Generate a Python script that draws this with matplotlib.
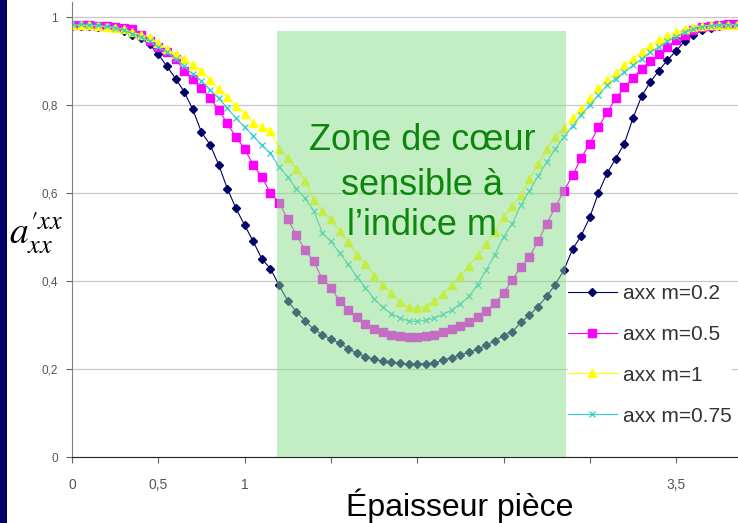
import matplotlib.pyplot as plt
from matplotlib.patches import Rectangle

# epaisseur (x) and the four axx curves
epaisseur = [0.00, 0.05, 0.10, 0.15, 0.20, 0.25, 0.30, 0.35, 0.40, 0.45,
             0.50, 0.55, 0.60, 0.65, 0.70, 0.75, 0.80, 0.85, 0.90, 0.95,
             1.00, 1.05, 1.10, 1.15, 1.20, 1.25, 1.30, 1.35, 1.40, 1.45,
             1.50, 1.55, 1.60, 1.65, 1.70, 1.75, 1.80, 1.85, 1.90, 1.95,
             2.00, 2.05, 2.10, 2.15, 2.20, 2.25, 2.30, 2.35, 2.40, 2.45,
             2.50, 2.55, 2.60, 2.65, 2.70, 2.75, 2.80, 2.85, 2.90, 2.95,
             3.00, 3.05, 3.10, 3.15, 3.20, 3.25, 3.30, 3.35, 3.40, 3.45,
             3.50, 3.55, 3.60, 3.65, 3.70, 3.75, 3.80, 3.85, 3.90, 3.95,
             4.00]

axx_m02 = [0.980, 0.980, 0.979, 0.978, 0.977, 0.975, 0.968, 0.960, 0.952, 0.938,
           0.915, 0.888, 0.860, 0.830, 0.790, 0.738, 0.710, 0.664, 0.610, 0.565,
           0.527, 0.490, 0.450, 0.428, 0.390, 0.355, 0.330, 0.310, 0.290, 0.278,
           0.268, 0.259, 0.246, 0.236, 0.228, 0.222, 0.218, 0.215, 0.213, 0.211,
           0.211, 0.212, 0.214, 0.220, 0.226, 0.232, 0.238, 0.245, 0.254, 0.264,
           0.276, 0.284, 0.306, 0.322, 0.342, 0.365, 0.392, 0.425, 0.472, 0.503,
           0.545, 0.600, 0.645, 0.678, 0.712, 0.770, 0.820, 0.852, 0.878, 0.902,
           0.923, 0.945, 0.960, 0.970, 0.975, 0.979, 0.982, 0.983, 0.983, 0.983,
           0.983]

axx_m05 = [0.982, 0.982, 0.981, 0.980, 0.979, 0.978, 0.976, 0.972, 0.960, 0.945,
           0.932, 0.920, 0.905, 0.878, 0.858, 0.838, 0.815, 0.789, 0.758, 0.727,
           0.700, 0.664, 0.636, 0.600, 0.578, 0.540, 0.505, 0.470, 0.445, 0.405,
           0.385, 0.355, 0.335, 0.318, 0.302, 0.292, 0.284, 0.277, 0.274, 0.272,
           0.272, 0.274, 0.277, 0.283, 0.290, 0.298, 0.307, 0.318, 0.332, 0.350,
           0.372, 0.402, 0.432, 0.455, 0.490, 0.530, 0.568, 0.605, 0.640, 0.680,
           0.712, 0.750, 0.783, 0.815, 0.840, 0.862, 0.882, 0.900, 0.915, 0.932,
           0.947, 0.960, 0.970, 0.977, 0.980, 0.982, 0.983, 0.983, 0.983, 0.983,
           0.983]

axx_m1 = [0.982, 0.982, 0.981, 0.980, 0.978, 0.976, 0.972, 0.965, 0.960, 0.954,
          0.940, 0.928, 0.915, 0.905, 0.892, 0.878, 0.856, 0.836, 0.818, 0.798,
          0.780, 0.760, 0.750, 0.742, 0.700, 0.680, 0.655, 0.628, 0.585, 0.560,
          0.540, 0.513, 0.488, 0.460, 0.438, 0.412, 0.390, 0.372, 0.352, 0.340,
          0.338, 0.342, 0.355, 0.370, 0.392, 0.412, 0.435, 0.458, 0.485, 0.512,
          0.545, 0.570, 0.595, 0.632, 0.665, 0.700, 0.728, 0.748, 0.770, 0.792,
          0.815, 0.838, 0.857, 0.872, 0.890, 0.905, 0.920, 0.935, 0.947, 0.957,
          0.965, 0.972, 0.977, 0.980, 0.981, 0.982, 0.982, 0.982, 0.982, 0.982,
          0.982]

axx_m075 = [0.983, 0.983, 0.982, 0.981, 0.979, 0.976, 0.970, 0.962, 0.955, 0.945,
            0.932, 0.920, 0.905, 0.888, 0.870, 0.855, 0.835, 0.815, 0.793, 0.770,
            0.750, 0.730, 0.708, 0.690, 0.660, 0.636, 0.610, 0.588, 0.560, 0.510,
            0.490, 0.464, 0.438, 0.410, 0.385, 0.360, 0.340, 0.326, 0.316, 0.309,
            0.308, 0.311, 0.316, 0.324, 0.334, 0.348, 0.365, 0.392, 0.425, 0.460,
            0.500, 0.530, 0.572, 0.605, 0.638, 0.670, 0.700, 0.728, 0.752, 0.778,
            0.800, 0.822, 0.845, 0.860, 0.875, 0.890, 0.905, 0.920, 0.932, 0.945,
            0.955, 0.965, 0.972, 0.978, 0.980, 0.982, 0.982, 0.982, 0.982, 0.982,
            0.982]

series_labels = ["axx m=0.2", "axx m=0.5", "axx m=1", "axx m=0.75"]
xtick_vals = [0, 0.5, 1, 1.5, 2, 2.5, 3, 3.5]
# the middle labels are hidden behind the slide's text box in the original
xtick_labels = ["0", "0,5", "1", "", "", "", "", "3,5"]
ytick_vals = [0, 0.2, 0.4, 0.6, 0.8, 1]
ytick_labels = ["0", "0,2", "0,4", "0,6", "0,8", "1"]
zone_x = (1.19, 2.86)
zone_top = 0.968
zone_lines = ["Zone de cœur", "sensible à", "l’indice m"]
zone_text_y = [0.72, 0.618, 0.527]

plt.rcParams['font.family'] = ['Liberation Sans', 'DejaVu Sans']
plt.rcParams['mathtext.fontset'] = 'stix'

fig = plt.figure(figsize=(7.38, 5.23), dpi=100)
ax = fig.add_axes([72/738, 66/523, 666/738, 455/523])

ax.plot(epaisseur, axx_m02, color='#000066', lw=0.8, marker='D', ms=4.2,
        label=series_labels[0], zorder=2)
ax.plot(epaisseur, axx_m05, color='#ff00ff', lw=0.8, marker='s', ms=5.5,
        label=series_labels[1], zorder=2)
ax.plot(epaisseur, axx_m1, color='#ffff00', lw=0.8, marker='^', ms=6,
        label=series_labels[2], zorder=2)
ax.plot(epaisseur, axx_m075, color='#33cccc', lw=0.8, marker='x', ms=4.5,
        mew=0.9, label=series_labels[3], zorder=2)

# zone de coeur (semi transparent green box)
ax.add_patch(Rectangle((zone_x[0], 0), zone_x[1] - zone_x[0], zone_top,
                       facecolor='#89dc89', edgecolor='none', alpha=0.5, zorder=3))
for txt, ty in zip(zone_lines, zone_text_y):
    ax.text(2.03, ty, txt, ha='center', va='center', fontsize=26,
            color='#0b870b', zorder=4)

ax.set_xlim(0, 666/172.6)
ax.set_ylim(0, 455/440)
ax.set_xticks(xtick_vals)
ax.set_xticklabels(xtick_labels)
ax.set_yticks(ytick_vals)
ax.set_yticklabels(ytick_labels)
ax.tick_params(axis='both', direction='out', length=4, width=0.8,
               labelcolor='#555555', color='#666666')
ax.tick_params(axis='x', labelsize=10, pad=11)
ax.tick_params(axis='y', labelsize=8.5, pad=6)
ax.grid(axis='y', color='#c8c8c8', lw=0.9)
ax.set_axisbelow(True)
for side in ['top', 'right']:
    ax.spines[side].set_visible(False)
ax.spines['left'].set_color('#808080')
ax.spines['bottom'].set_color('#222222')

leg = ax.legend(loc='upper left', bbox_to_anchor=(568/738, 1 - 284/523),
                bbox_transform=fig.transFigure, fontsize=15, frameon=True,
                framealpha=1, facecolor='white', edgecolor='none',
                borderpad=0.0, borderaxespad=0, handlelength=2.35,
                handletextpad=0.3, labelspacing=1.05)
for t in leg.get_texts():
    t.set_color('#333333')

# left navy band of the slide and the axis label
fig.patches.append(Rectangle((0, 0), 7/738, 1, transform=fig.transFigure,
                             facecolor='#000066', edgecolor='none', zorder=1))
fig.text(36/738, 1 - 233/523, r"$a^{\prime xx}_{xx}$", ha='center', va='center',
         fontsize=27, zorder=3)
fig.text(460/738, 1 - 506/523, "Épaisseur pièce", ha='center', va='center',
         fontsize=23, color='#000000', zorder=3)

fig.savefig("out.png", dpi=100)
